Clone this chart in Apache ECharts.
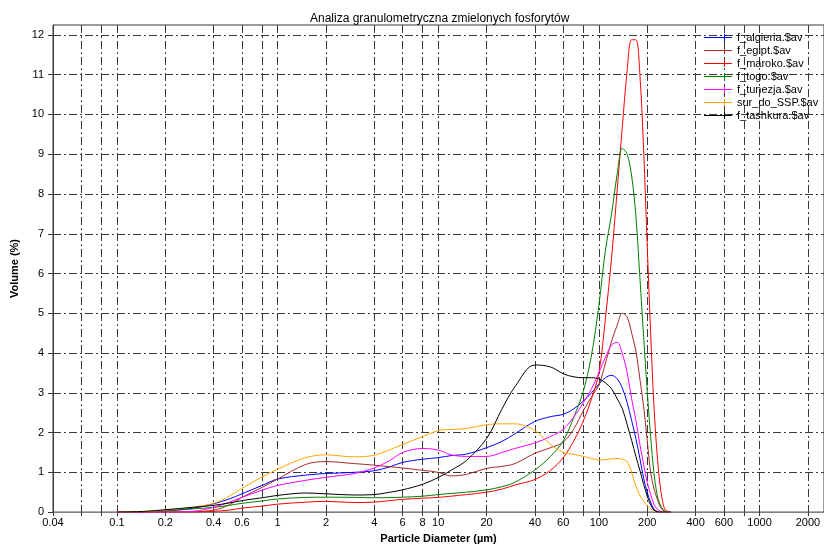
<!DOCTYPE html>
<html>
<head>
<meta charset="utf-8">
<script src="https://cdn.jsdelivr.net/npm/echarts@6/dist/echarts.min.js"></script>
<style>html,body{margin:0;padding:0;background:#fff;}#chart{width:824px;height:549px;}</style>
</head>
<body>
<div id="chart"></div>
<script>
// Particle diameters (µm)
const diameters = [0.1, 0.15, 0.2, 0.3, 0.4, 0.5, 0.6, 0.8,
  1, 1.5, 2, 3, 4, 5, 6, 8,
  10, 12, 15, 20, 25, 30, 40, 50, 60, 70, 80, 90,
  100, 110, 120, 130, 140, 150, 160, 170, 180, 190,
  200, 210, 220, 230, 240, 250, 260, 280];

const seriesNames = ['f_algieria.$av', 'f_egipt.$av', 'f_maroko.$av', 'f_togo.$av', 'f_tunezja.$av', 'sur_do_SSP.$av', 'f_tashkura.$av'];

const algieria = [0, 0.01, 0.03, 0.1, 0.21, 0.33, 0.46, 0.67,
  0.83, 0.93, 0.97, 1.0, 1.04, 1.14, 1.25, 1.33,
  1.37, 1.42, 1.46, 1.62, 1.78, 1.97, 2.28, 2.4, 2.46, 2.6, 2.79, 3.0,
  3.22, 3.38, 3.44, 3.35, 3.12, 2.75, 2.3, 1.85, 1.35, 0.85,
  0.5, 0.25, 0.08, 0.02, 0, 0, 0, 0];
const egipt = [0, 0, 0, 0.01, 0.05, 0.18, 0.37, 0.62,
  0.83, 1.2, 1.27, 1.22, 1.18, 1.14, 1.11, 1.05,
  1.0, 0.91, 0.95, 1.1, 1.15, 1.22, 1.48, 1.62, 1.76, 2.1, 2.55, 2.9,
  3.2, 3.75, 4.3, 4.7, 5.0, 4.9, 4.5, 4.05, 3.35, 2.65,
  1.8, 1.0, 0.6, 0.35, 0.15, 0.05, 0.01, 0];
const maroko = [0, 0, 0, 0, 0.02, 0.05, 0.1, 0.15,
  0.2, 0.25, 0.27, 0.24, 0.25, 0.29, 0.32, 0.35,
  0.37, 0.4, 0.44, 0.5, 0.58, 0.68, 0.82, 1.05, 1.37, 1.8, 2.29, 2.85,
  3.5, 4.9, 6.4, 8.1, 9.7, 11.1, 11.88, 11.88, 11.0, 9.1,
  6.7, 4.5, 2.7, 1.5, 0.7, 0.25, 0.05, 0];
const togo = [0, 0.01, 0.03, 0.08, 0.12, 0.17, 0.22, 0.28,
  0.33, 0.37, 0.375, 0.37, 0.36, 0.365, 0.375, 0.4,
  0.44, 0.47, 0.5, 0.56, 0.64, 0.75, 1.06, 1.4, 1.79, 2.4, 3.04, 3.95,
  5.2, 6.6, 7.5, 8.5, 9.15, 9.0, 8.45, 7.45, 5.9, 4.4,
  3.05, 1.9, 1.0, 0.45, 0.2, 0.07, 0.02, 0];
const tunezja = [0, 0, 0, 0.02, 0.12, 0.25, 0.37, 0.55,
  0.67, 0.8, 0.875, 0.97, 1.11, 1.3, 1.5, 1.6,
  1.56, 1.44, 1.4, 1.4, 1.5, 1.6, 1.74, 1.9, 2.08, 2.4, 2.75, 3.1,
  3.5, 3.9, 4.2, 4.27, 3.98, 3.5, 2.85, 2.3, 1.7, 1.2,
  0.75, 0.45, 0.2, 0.08, 0.03, 0, 0, 0];
const surDoSSP = [0, 0.02, 0.05, 0.13, 0.22, 0.4, 0.6, 0.88,
  1.08, 1.37, 1.44, 1.39, 1.43, 1.57, 1.7, 1.9,
  2.05, 2.08, 2.1, 2.2, 2.22, 2.22, 2.05, 1.7, 1.5, 1.45, 1.4, 1.35,
  1.31, 1.32, 1.34, 1.35, 1.33, 1.26, 1.0, 0.65, 0.42, 0.27,
  0.16, 0.08, 0.03, 0.01, 0, 0, 0, 0];
const tashkura = [0, 0.02, 0.06, 0.12, 0.17, 0.23, 0.29, 0.36,
  0.42, 0.48, 0.46, 0.43, 0.44, 0.5, 0.56, 0.7,
  0.87, 1.05, 1.3, 1.85, 2.6, 3.15, 3.7, 3.65, 3.48, 3.4, 3.38, 3.38,
  3.35, 3.25, 3.1, 2.85, 2.6, 2.2, 1.8, 1.4, 1.05, 0.7,
  0.4, 0.18, 0.05, 0.01, 0, 0, 0, 0];

const seriesValues = [algieria, egipt, maroko, togo, tunezja, surDoSSP, tashkura];
const seriesColors = ['#0000FF', '#A52A2A', '#FF0000', '#008000', '#FF00FF', '#FFA500', '#000000'];

// Axis ticks
const xGridTicks = [0.04, 0.06, 0.08, 0.1, 0.2, 0.4, 0.6, 0.8, 1, 2, 4, 6, 8, 10, 20, 40, 60, 80, 100, 200, 400, 600, 800, 1000, 2000];
const xLabelTicks = [0.04, 0.1, 0.2, 0.4, 0.6, 1, 2, 4, 6, 8, 10, 20, 40, 60, 100, 200, 400, 600, 1000, 2000];
const yTicks = [0, 1, 2, 3, 4, 5, 6, 7, 8, 9, 10, 11, 12];

const FONT = "'Liberation Sans', Arial, sans-serif";
const gridLine = { color: '#3a3a3a', width: 1, type: [8, 3, 2, 3] };

const chart = echarts.init(document.getElementById('chart'), null, { renderer: 'canvas' });
chart.setOption({
  animation: false,
  backgroundColor: '#ffffff',
  textStyle: { fontFamily: FONT },
  title: {
    text: 'Analiza granulometryczna zmielonych fosforytów',
    left: 305, top: 8,
    textStyle: { fontSize: 12, fontWeight: 'normal', color: '#000', fontFamily: FONT }
  },
  legend: {
    orient: 'vertical',
    left: 699, top: 26,
    itemWidth: 28, itemHeight: 7, itemGap: 0,
    icon: 'path://M0,3 L28,3 L28,4 L0,4 Z M20,0 L21,0 L21,7 L20,7 Z',
    textStyle: { fontSize: 11, color: '#000', lineHeight: 13, fontFamily: FONT },
    data: seriesNames.map(function (n, i) { return { name: n, itemStyle: { color: seriesColors[i] } }; })
  },
  grid: {
    left: 53, right: 0, top: 25, bottom: 34,
    show: true, borderColor: '#3a3a3a', borderWidth: 1
  },
  xAxis: {
    type: 'value',
    min: Math.log10(0.04),
    max: Math.log10(2520),
    name: 'Particle Diameter (µm)',
    nameLocation: 'middle',
    nameGap: 20,
    nameTextStyle: { fontSize: 11, fontWeight: 'bold', color: '#000', fontFamily: FONT },
    axisLine: { show: true, onZero: false, lineStyle: { color: '#808080', width: 1 } },
    axisTick: { show: true, length: 4, customValues: xGridTicks.map(Math.log10), lineStyle: { color: '#3a3a3a' } },
    axisLabel: {
      customValues: xLabelTicks.map(Math.log10),
      formatter: function (v) { return String(parseFloat(Math.pow(10, v).toPrecision(6))); },
      fontSize: 11, color: '#000', margin: 5, fontFamily: FONT
    },
    splitLine: { show: true, lineStyle: gridLine }
  },
  yAxis: {
    type: 'value',
    min: 0, max: 12.25, interval: 1,
    name: 'Volume (%)',
    nameLocation: 'middle',
    nameRotate: 90,
    nameGap: 32,
    nameTextStyle: { fontSize: 11, fontWeight: 'bold', color: '#000', fontFamily: FONT },
    axisLine: { show: true, onZero: false, lineStyle: { color: '#3a3a3a', width: 1 } },
    axisTick: { show: true, length: 5, customValues: yTicks, lineStyle: { color: '#3a3a3a' } },
    axisLabel: { customValues: yTicks, fontSize: 11, color: '#000', margin: 9, fontFamily: FONT },
    splitLine: { show: true, lineStyle: gridLine }
  },
  series: seriesNames.map(function (name, i) {
    return {
      name: name,
      type: 'line',
      data: diameters.map(function (d, j) { return [Math.log10(d), seriesValues[i][j]]; }),
      showSymbol: false,
      symbol: 'none',
      smooth: 0.35,
      color: seriesColors[i],
      lineStyle: { width: 1, color: seriesColors[i] },
      emphasis: { disabled: true }
    };
  })
});
</script>
</body>
</html>
